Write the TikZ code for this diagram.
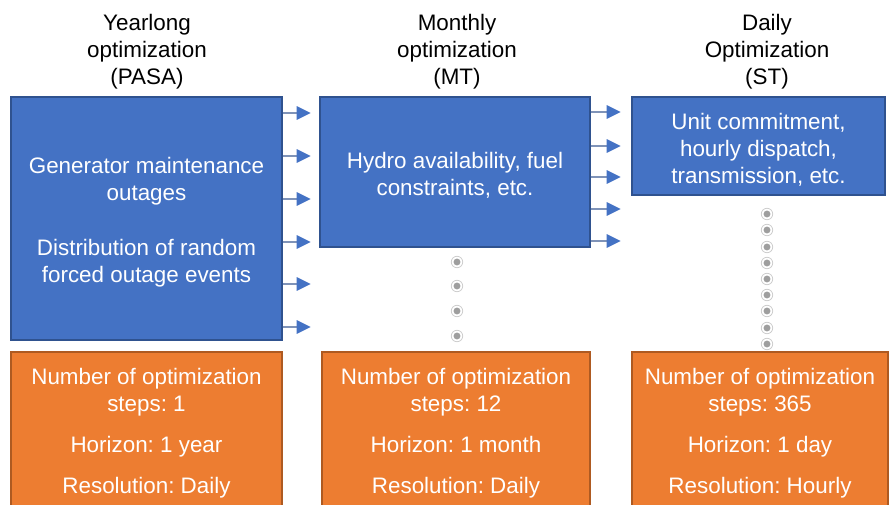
\documentclass[tikz,border=0pt]{standalone}
\usepackage{fontspec}
\setmainfont{Liberation Sans}
\usetikzlibrary{arrows.meta, positioning}
\definecolor{boxblue}{HTML}{4472C4}
\definecolor{blueedge}{HTML}{2F528F}
\definecolor{boxorange}{HTML}{ED7D31}
\definecolor{orangeedge}{HTML}{AE5A21}
\definecolor{arrline}{HTML}{7F93B8}
\newcommand{\stagefont}{\fontsize{16.8}{20.25}\selectfont}
\frenchspacing

\begin{document}
\begin{tikzpicture}[x=0.75pt, y=-0.75pt,
    stage/.style={rectangle, draw=blueedge, fill=boxblue, line width=1.1pt, inner sep=0pt},
    facts/.style={stage, draw=orangeedge, fill=boxorange},
    boxtext/.style={text=white, font=\stagefont, align=center, yshift=-2.5pt},
    title/.style={font=\stagefont, align=center},
    arr/.style={-{Triangle[length=10.5pt, width=10pt, color=boxblue]},
                draw=arrline, line width=1.5pt},
]
\clip (0,0) rectangle (890,504);

% titles
\node[title] (tpasa) at (147,52) {Yearlong\\optimization\\(PASA)};
\node[title] (tmt)   at (457,52) {Monthly\\optimization\\(MT)};
\node[title] (tst)   at (767,52) {Daily\\Optimization\\(ST)};

% blue stages
\node[stage, minimum width=203.25pt, minimum height=182.25pt] (pasa) at (146.5,218.5) {};
\node[stage, minimum width=202.5pt, minimum height=112.5pt] (mt) at (455,172) {};
\node[stage, minimum width=189.75pt, minimum height=73.5pt] (st) at (758.5,146) {};
\node[boxtext] (pasatxt) at (pasa) {Generator maintenance\\outages\\[21pt]Distribution of random\\forced outage events};
\node[boxtext] (mttxt) at (mt) {Hydro availability, fuel\\constraints, etc.};
\node[boxtext] (sttxt) at (st) {Unit commitment,\\hourly dispatch,\\transmission, etc.};

% orange facts
\node[facts, minimum width=203.25pt, minimum height=117pt] (fpasa) at (146.5,430) {};
\node[facts, minimum width=201pt, minimum height=117pt] (fmt) at (456,430) {};
\node[facts, minimum width=192pt, minimum height=117pt] (fst) at (760,430) {};
\node[boxtext] (fpasatxt) at (fpasa) {Number of optimization\\steps: 1\\[10.5pt]Horizon: 1 year\\[10.5pt]Resolution: Daily};
\node[boxtext] (fmttxt) at (fmt) {Number of optimization\\steps: 12\\[10.5pt]Horizon: 1 month\\[10.5pt]Resolution: Daily};
\node[boxtext] (fsttxt) at (fst) {Number of optimization\\steps: 365\\[10.5pt]Horizon: 1 day\\[10.5pt]Resolution: Hourly};

% hand-over arrows
\foreach \y in {113,156,199,242,284,327}
  \draw[arr] (pasa.east |- 0,\y) -- ++(28,0);
\foreach \y in {112,146,177,209,241}
  \draw[arr] (mt.east |- 0,\y) -- ++(30,0);

% repeated steps
\foreach \y in {262,286,311,336} {
  \draw[black!20, line width=0.6pt] (457,\y) circle (4.3pt);
  \fill[black!38] (457,\y) circle (2.6pt);
}
\foreach \y in {214,230,247,263,279,295,311,328,344} {
  \draw[black!20, line width=0.6pt] (767,\y) circle (4.3pt);
  \fill[black!38] (767,\y) circle (2.6pt);
}
\end{tikzpicture}
\end{document}
